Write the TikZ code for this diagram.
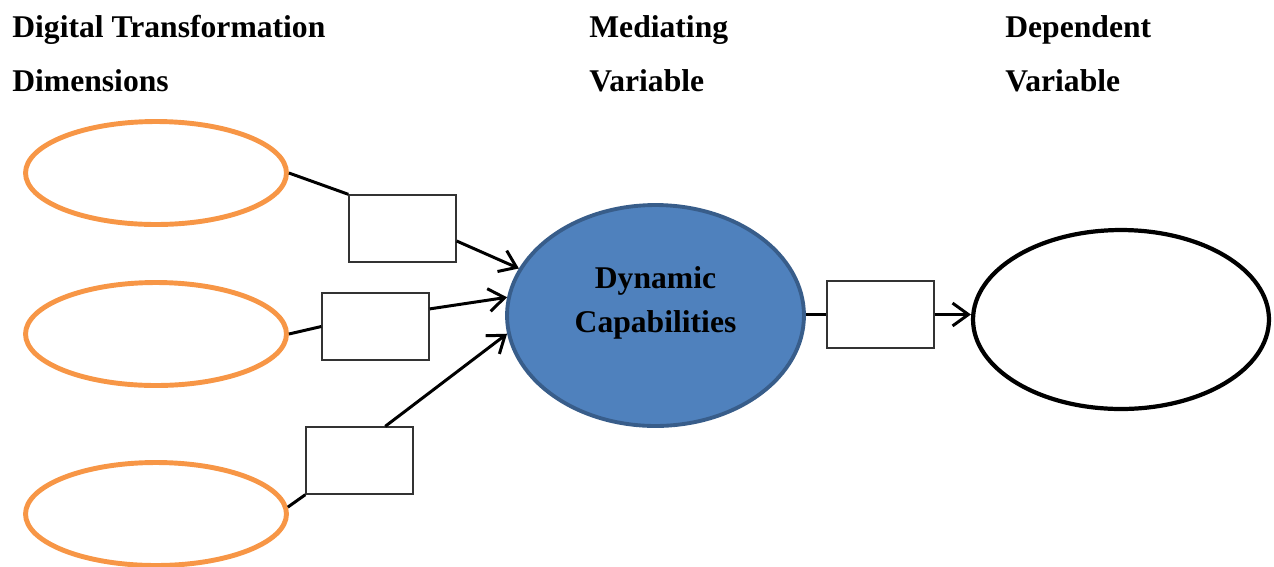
\documentclass[tikz,border=0pt]{standalone}
\usepackage{fontspec}
\setmainfont{Liberation Serif}
\usepackage{xcolor}
\usepackage{tikz}
\usetikzlibrary{shapes.geometric, arrows.meta, positioning}
\definecolor{dimorange}{HTML}{F79646}
\definecolor{medblue}{HTML}{4F81BD}
\definecolor{medline}{HTML}{385D8A}
\tikzstyle{dimension} = [ellipse, draw=dimorange, line width=2.8pt, minimum width=5.22cm, minimum height=2.06cm, inner sep=0pt]
\tikzstyle{mediator} = [ellipse, draw=medline, fill=medblue, line width=2.2pt, minimum width=5.94cm, minimum height=4.42cm, inner sep=0pt]
\tikzstyle{outcome} = [ellipse, draw=black, line width=2.4pt, minimum width=5.92cm, minimum height=3.58cm, inner sep=0pt]
\tikzstyle{pathbox} = [rectangle, draw=black!80, line width=0.8pt, minimum width=2.14cm, minimum height=1.34cm, inner sep=0pt]
\tikzstyle{heading} = [anchor=base west, inner sep=0pt, font=\fontsize{18}{22}\selectfont\bfseries]
\tikzstyle{label} = [inner sep=0pt, align=center, font=\fontsize{18}{25}\selectfont\bfseries]
\tikzstyle{line} = [line width=1.7pt]
\tikzstyle{arrow} = [line width=1.7pt, -{Straight Barb[length=9pt,width=13pt]}]

\begin{document}
\begin{tikzpicture}[x=0.02cm, y=-0.02cm]
			\useasboundingbox (0,0) rectangle (1274,566);

			% column headings
			\node (dimhead) [heading] at (12,37) {Digital Transformation};
			\node (dimhead2) [heading] at (12,91) {Dimensions};
			\node (medhead) [heading] at (589,37) {Mediating};
			\node (medhead2) [heading] at (589,91) {Variable};
			\node (dephead) [heading] at (1005,37) {Dependent};
			\node (dephead2) [heading] at (1005,91) {Variable};

			% dimensions
			\node (dim1) [dimension] at (156,173) {};
			\node (dim2) [dimension] at (156,334) {};
			\node (dim3) [dimension] at (156,514) {};

			% path boxes
			\node (box1) [pathbox] at (402.5,228.5) {};
			\node (box2) [pathbox] at (375.5,326.5) {};
			\node (box3) [pathbox] at (359.5,460.5) {};
			\node (box4) [pathbox] at (880.5,314.5) {};

			\node (dc) [mediator] at (655.5,315.5) {};
			\node (dclabel) [label] at (655.5,303) {Dynamic\\Capabilities};
			\node (dv) [outcome] at (1121,319.5) {};

			\draw [line] (dim1.east) -- (box1.north west);
			\draw [arrow] (box1.-13) -- (dc.161);
			\draw [line] (dim2.east) -- (box2.west);
			\draw [arrow] (box2.18) -- (dc.173);
			\draw [line] (dim3.3) -- (box3.south west);
			\draw [arrow] (box3.53) -- (dc.187);
			\draw [line] (dc.east |- box4.west) -- (box4.west);
			\draw [arrow] (box4.east) -- (box4.east -| dv.west);
		\end{tikzpicture}
\end{document}
